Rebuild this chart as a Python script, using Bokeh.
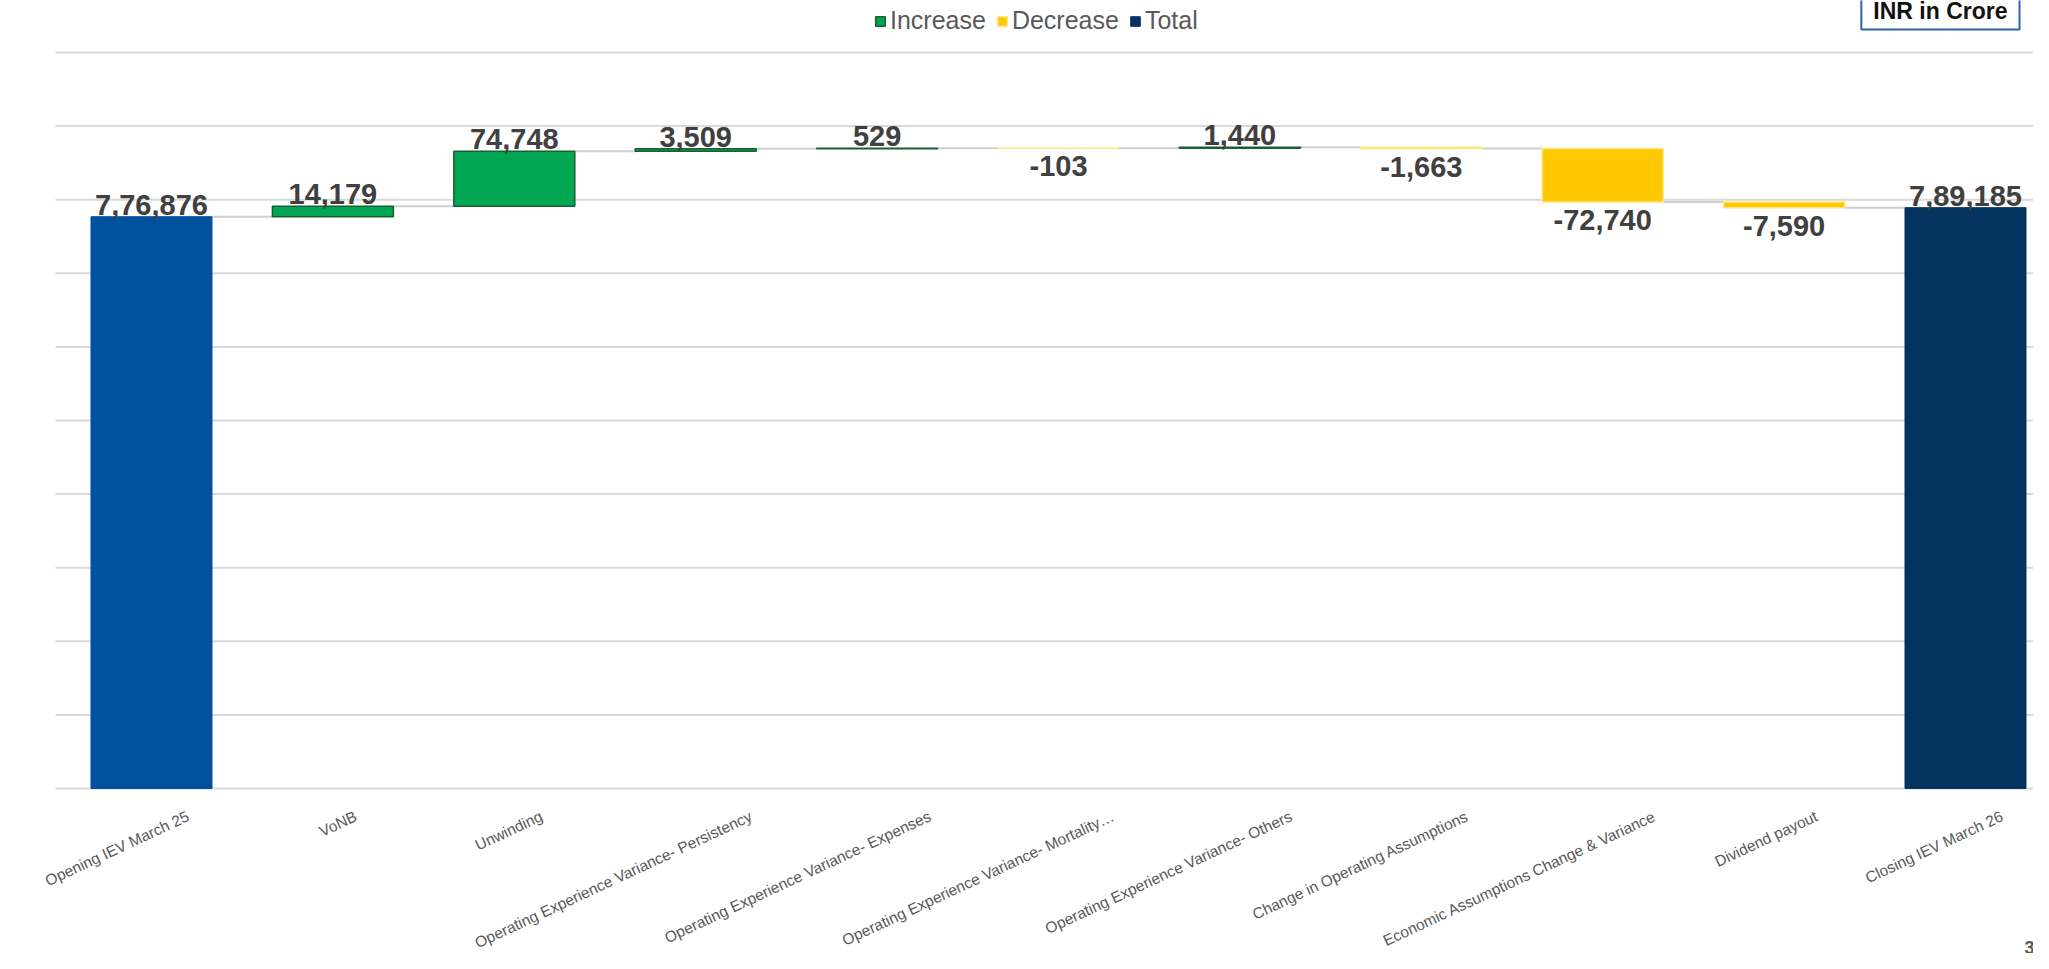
import numpy as np
from bokeh.plotting import figure
from bokeh.models import ColumnDataSource, Legend, LegendItem, Range1d
from bokeh.core.properties import value
from bokeh.embed import file_html
from bokeh.resources import INLINE

# ---- data ----
categories = [
    "Opening IEV March 25",
    "VoNB",
    "Unwinding",
    "Operating Experience Variance- Persistency",
    "Operating Experience Variance- Expenses",
    "Operating Experience Variance- Mortality\u2026",
    "Operating Experience Variance- Others",
    "Change in Operating Assumptions",
    "Economic Assumptions Change & Variance",
    "Dividend payout",
    "Closing IEV March 26",
]
values = [776876, 14179, 74748, 3509, 529, -103, 1440, -1663, -72740, -7590, 789185]
kinds = ["total", "inc", "inc", "inc", "inc", "dec", "inc", "dec", "dec", "dec", "total"]
y_ticks = [0, 100000, 200000, 300000, 400000, 500000, 600000, 700000, 800000, 900000, 1000000]


def indian(n):
    s = str(abs(int(n)))
    if len(s) > 3:
        head, tail = s[:-3], s[-3:]
        parts = []
        while len(head) > 2:
            parts.insert(0, head[-2:])
            head = head[:-2]
        if head:
            parts.insert(0, head)
        s = ",".join(parts) + "," + tail
    return ("-" if n < 0 else "") + s


# ---- waterfall geometry from the values ----
bottoms, tops, levels = [], [], []
running = 0
for v, k in zip(values, kinds):
    if k == "total":
        b, t = 0, v
        running = v
    else:
        b, t = (running, running + v) if v >= 0 else (running + v, running)
        running += v
    bottoms.append(b)
    tops.append(t)
    levels.append(running)

idx = list(range(len(categories)))
W = 0.667

TOTAL_COLORS = {0: "#00519e", len(categories) - 1: "#04335f"}


def subset(kind):
    ii = [i for i in idx if kinds[i] == kind]
    d = dict(x=ii, bottom=[bottoms[i] for i in ii], top=[tops[i] for i in ii])
    if kind == "total":
        d["color"] = [TOTAL_COLORS[i] for i in ii]
    return ColumnDataSource(d)


# ---- layout (the frame fills the whole canvas) ----
CW, CH = 2033, 953
BASE_Y = 788          # canvas px of the zero line
PX_PER_M = 736.0      # px per 1,000,000
CAT0_X = 151.0        # canvas px of first category centre
CAT_W = 181.4         # px per category
units_per_px = 1_000_000 / PX_PER_M
y0 = -(CH - BASE_Y) * units_per_px
y1 = BASE_Y * units_per_px
x0 = -CAT0_X / CAT_W
x1 = (CW - CAT0_X) / CAT_W


def sx(px):
    return (px - CAT0_X) / CAT_W


def sy(py):
    return (BASE_Y - py) * units_per_px


p = figure(width=CW, height=CH, output_backend="svg", toolbar_location=None,
           x_range=Range1d(x0, x1), y_range=Range1d(y0, y1),
           min_border=0, min_border_left=0, min_border_right=0,
           min_border_top=0, min_border_bottom=0)
p.outline_line_color = None
p.background_fill_color = "white"
p.border_fill_color = "white"
p.axis.visible = False
p.grid.visible = False

# horizontal gridlines (start where the reference plot area starts)
grid_left = sx(55)
p.segment(x0=[grid_left] * len(y_ticks), y0=y_ticks, x1=[x1] * len(y_ticks), y1=y_ticks,
          line_color="#d9d9d9", line_width=2)

# connectors
cx0 = [i + W / 2 for i in idx[:-1]]
cx1 = [i + 1 - W / 2 for i in idx[:-1]]
cy = levels[:-1]
p.segment(x0=cx0, y0=cy, x1=cx1, y1=cy, line_color="#d0d0d0", line_width=2)

r_inc = p.vbar(x="x", bottom="bottom", top="top", width=W, source=subset("inc"),
               fill_color="#00a651", line_color="#1b5e34", line_width=1.5)
r_dec = p.vbar(x="x", bottom="bottom", top="top", width=W, source=subset("dec"),
               fill_color="#ffc800", line_color="#ffe680", line_width=1.5)
r_tot = p.vbar(x="x", bottom="bottom", top="top", width=W, source=subset("total"),
               fill_color="color", line_color="color", line_width=1)

# value labels
lab_font = value("Liberation Sans")
up = [i for i in idx if kinds[i] != "dec"]
dn = [i for i in idx if kinds[i] == "dec"]
p.text(x=up, y=[tops[i] for i in up], text=[indian(values[i]) for i in up],
       text_align="center", text_baseline="bottom", y_offset=-2,
       text_font=lab_font, text_font_style="bold", text_font_size="29px", text_color="#404040")
p.text(x=dn, y=[bottoms[i] for i in dn], text=[indian(values[i]) for i in dn],
       text_align="center", text_baseline="top", y_offset=8,
       text_font=lab_font, text_font_style="bold", text_font_size="29px", text_color="#404040")

# category labels (rotated, right end near the category centre)
xoffs = [16 + 0.85 * len(c) for c in categories]
p.text(x=idx, y=[0] * len(idx), text=categories, angle=0.436,
       text_align="right", text_baseline="top", x_offset=xoffs, y_offset=19,
       text_font=value("Liberation Sans"), text_font_size="15.5px", text_color="#595959")

# legend
legend = Legend(items=[
    LegendItem(label="Increase", renderers=[r_inc]),
    LegendItem(label="Decrease", renderers=[r_dec]),
    LegendItem(label="Total", renderers=[r_tot], index=1),
], orientation="horizontal", location=(874, CH - 35),
    label_text_font="Liberation Sans", label_text_font_size="25px", label_text_color="#595959",
    glyph_width=12, glyph_height=12, label_standoff=4, spacing=10, padding=1, margin=0,
    border_line_color=None, background_fill_alpha=0)
p.add_layout(legend, "center")

# unit box
p.text(x=[sx(2019)], y=[sy(10)], text=["INR in Crore"],
       text_align="right", text_baseline="alphabetic",
       text_font=value("Liberation Sans"), text_font_style="bold", text_font_size="23px",
       text_color="#111111", background_fill_color="white",
       border_line_color="#2f64a8", border_line_width=2, padding=dict(x=12, y=6))

# page number (cropped at the edge)
p.text(x=[sx(2024)], y=[sy(953)], text=["31"],
       text_align="left", text_baseline="bottom",
       text_font=value("Liberation Sans"), text_font_style="bold", text_font_size="18px",
       text_color="#595959")

open("out.html", "w").write(file_html(p, INLINE))
